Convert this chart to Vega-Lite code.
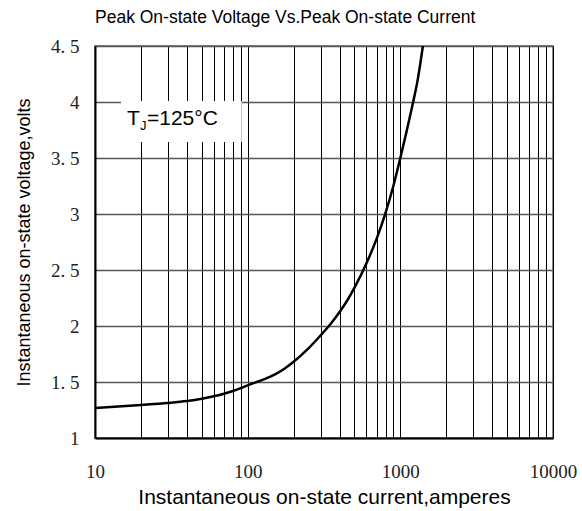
{
  "$schema": "https://vega.github.io/schema/vega-lite/v6.json",
  "width": 458,
  "height": 392,
  "autosize": {"type": "none"},
  "padding": {"left": 95, "top": 46, "right": 29, "bottom": 73},
  "background": "white",
  "config": {"view": {"stroke": "#888888", "strokeWidth": 2}, "font": "Liberation Sans"},
  "title": {"text": "Peak On-state Voltage Vs.Peak On-state Current", "anchor": "start", "frame": "group", "fontSize": 17.5, "fontWeight": "normal", "font": "Liberation Sans", "color": "#000000", "offset": 11},
  "datasets": {
    "curve": [
      {"current": 10, "voltage": 1.268},
      {"current": 20, "voltage": 1.295},
      {"current": 30, "voltage": 1.313},
      {"current": 40, "voltage": 1.33},
      {"current": 50, "voltage": 1.35},
      {"current": 60, "voltage": 1.372},
      {"current": 70, "voltage": 1.395},
      {"current": 80, "voltage": 1.42},
      {"current": 90, "voltage": 1.445},
      {"current": 100, "voltage": 1.47},
      {"current": 120, "voltage": 1.51},
      {"current": 150, "voltage": 1.565},
      {"current": 175, "voltage": 1.62},
      {"current": 200, "voltage": 1.68},
      {"current": 250, "voltage": 1.8},
      {"current": 300, "voltage": 1.915},
      {"current": 350, "voltage": 2.02},
      {"current": 400, "voltage": 2.125},
      {"current": 450, "voltage": 2.23},
      {"current": 500, "voltage": 2.34},
      {"current": 600, "voltage": 2.56},
      {"current": 700, "voltage": 2.78},
      {"current": 800, "voltage": 3.01},
      {"current": 900, "voltage": 3.25},
      {"current": 1000, "voltage": 3.5},
      {"current": 1100, "voltage": 3.74},
      {"current": 1200, "voltage": 3.97},
      {"current": 1300, "voltage": 4.2},
      {"current": 1406, "voltage": 4.5}
    ],
    "box": [{"current": 14.8, "current2": 91.5, "voltage": 3.643, "voltage2": 4.01}],
    "label_big": [{"current": 16.2, "voltage": 3.795, "text": "T"}, {"current": 21.9, "voltage": 3.795, "text": "=125°C"}],
    "label_sub": [{"current": 19.7, "voltage": 3.75, "text": "J"}]
  },
  "encoding": {
    "x": {
      "field": "current", "type": "quantitative",
      "scale": {"type": "log", "domain": [10, 10000], "nice": false},
      "axis": {
        "values": [10, 20, 30, 40, 50, 60, 70, 80, 90, 100, 200, 300, 400, 500, 600, 700, 800, 900, 1000, 2000, 3000, 4000, 5000, 6000, 7000, 8000, 9000, 10000],
        "labelExpr": "indexof([10, 100, 1000, 10000], datum.value) >= 0 ? format(datum.value, 'd') : ''",
        "labelOverlap": false, "labelFlush": false,
        "labelFont": "Liberation Serif", "labelFontSize": 19, "labelColor": "#222222", "labelPadding": 24,
        "ticks": false,
        "domainColor": "#000000", "domainWidth": 2,
        "grid": true, "gridColor": "#000000", "gridWidth": 1, "gridOpacity": 1,
        "title": "Instantaneous on-state current,amperes",
        "titleFont": "Liberation Sans", "titleFontSize": 21, "titleFontWeight": "normal", "titleColor": "#000000", "titlePadding": 5
      }
    },
    "y": {
      "field": "voltage", "type": "quantitative",
      "scale": {"domain": [1, 4.5], "nice": false, "zero": false},
      "axis": {
        "values": [1, 1.5, 2, 2.5, 3, 3.5, 4, 4.5],
        "labelExpr": "replace(datum.value % 1 == 0 ? format(datum.value, 'd') : format(datum.value, '.1f'), '.', '. ')",
        "labelOverlap": false, "labelFlush": false,
        "labelFont": "Liberation Serif", "labelFontSize": 19, "labelColor": "#222222", "labelPadding": 16,
        "ticks": false,
        "domainColor": "#000000", "domainWidth": 2,
        "grid": true, "gridColor": "#555555", "gridWidth": 1.3, "gridOpacity": 1,
        "title": "Instantaneous on-state voltage,volts",
        "titleFont": "Liberation Sans", "titleFontSize": 18, "titleFontWeight": "normal", "titleColor": "#000000", "titlePadding": 17
      }
    }
  },
  "layer": [
    {
      "data": {"name": "curve"},
      "mark": {"type": "line", "color": "#000000", "strokeWidth": 2.5, "interpolate": "monotone", "clip": true}
    },
    {
      "data": {"name": "box"},
      "mark": {"type": "rect", "fill": "#ffffff"},
      "encoding": {
        "x2": {"field": "current2"},
        "y2": {"field": "voltage2"}
      }
    },
    {
      "data": {"name": "label_big"},
      "mark": {"type": "text", "align": "left", "baseline": "alphabetic", "fontSize": 21, "font": "Liberation Sans", "color": "#000000"},
      "encoding": {"text": {"field": "text"}}
    },
    {
      "data": {"name": "label_sub"},
      "mark": {"type": "text", "align": "left", "baseline": "alphabetic", "fontSize": 13, "font": "Liberation Sans", "color": "#000000"},
      "encoding": {"text": {"field": "text"}}
    }
  ]
}
